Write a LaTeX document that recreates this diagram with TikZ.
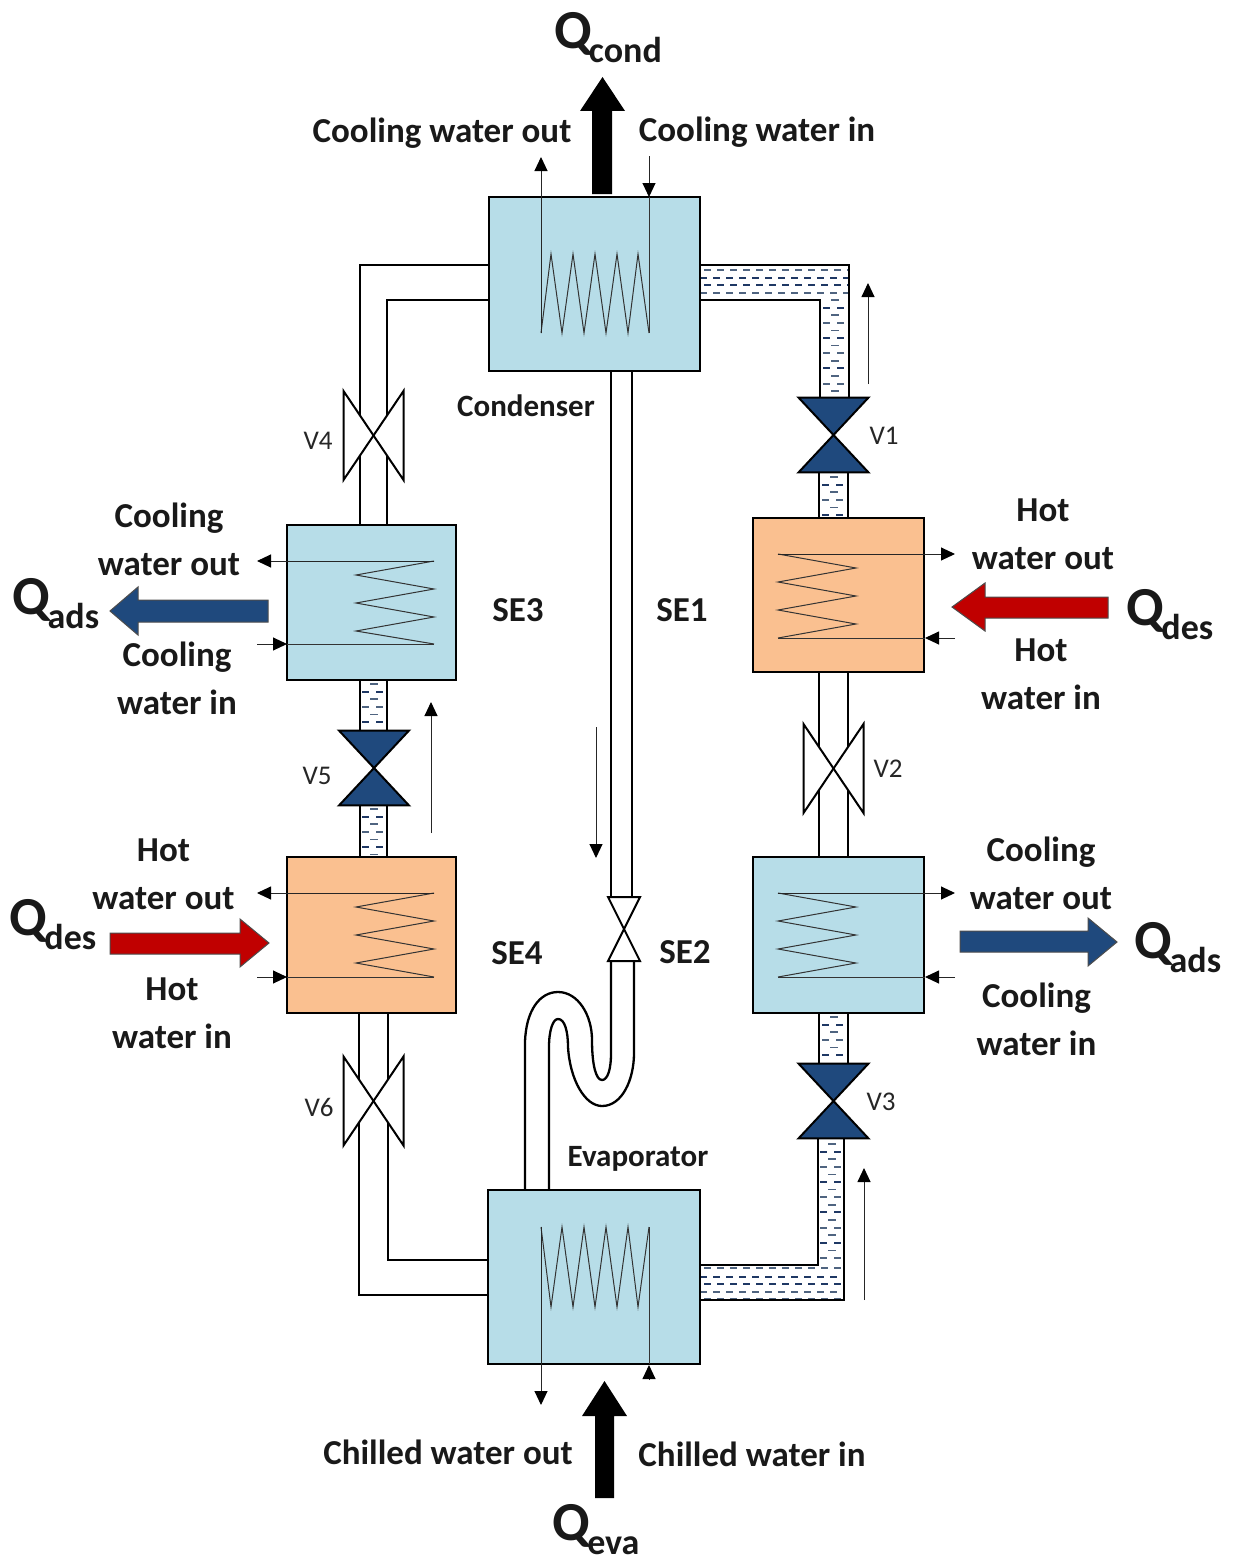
\documentclass[tikz,border=0pt]{standalone}
\usepackage{fontspec}
\setmainfont{Carlito}
\usetikzlibrary{arrows.meta}
\definecolor{boxblue}{HTML}{B7DDE8}
\definecolor{boxorange}{HTML}{FAC090}
\definecolor{navy}{HTML}{1F497D}
\definecolor{dred}{HTML}{C00000}
\definecolor{dashdark}{HTML}{1F3864}
\definecolor{dashgrey}{HTML}{4F6480}
\newcommand{\hdashes}[4]{% x0, x1, y, colour
  \draw[#4,line width=1.9pt,dash pattern=on 7pt off 6pt] (#1,#3) -- (#2,#3);}
\newcommand{\rowdash}[3]{% xcentre, y, colour
  \draw[#3,line width=1.9pt] (#1-11,#2) -- (#1-4,#2) (#1+3,#2) -- (#1+10,#2);}
\newcommand{\vdashes}[3]{% xcentre, y0, y1
  \pgfmathsetmacro{\yb}{#2+7.6}
  \foreach \y [count=\i] in {#2,\yb,...,#3} {
    \pgfmathtruncatemacro{\m}{mod(\i,4)}
    \ifnum\m=2 \rowdash{#1}{\y}{dashdark}\else\ifnum\m=0 \rowdash{#1}{\y}{dashgrey}\else
      \draw[dashgrey,line width=1.5pt] (#1-3,\y) -- (#1+5,\y);\fi\fi
  }}
\tikzset{
  x=1pt,y=-1pt,
  vessel/.style={draw=black,line width=2.5pt,inner sep=0pt,outer sep=0pt},
  pipe/.style={draw=black,line width=2.3pt},
  thin line/.style={draw=black!80,line width=1pt},
  flow/.style={draw=black!85,line width=1pt,-{Triangle[length=14pt,width=13pt,color=black]}},
  valveopen/.style={draw=black,line width=2pt,fill=white,line join=miter},
  valveshut/.style={draw=black,line width=2pt,fill=navy,line join=miter},
  lab/.style={font=\fontsize{35}{42}\selectfont\bfseries,align=center,inner sep=0pt,text=black!90},
  vlab/.style={font=\fontsize{27}{32}\selectfont,inner sep=0pt,text=black!85},
  hvlab/.style={font=\fontsize{31}{40}\selectfont\bfseries,inner sep=0pt,text=black!90},
  qlab/.style={inner sep=0pt,text=black!90},
}
\newcommand{\QQ}[1]{{\fontsize{55}{56}\selectfont\bfseries Q}\kern-3pt\raisebox{-14pt}{\fontsize{36}{36}\selectfont\bfseries #1}}
\begin{document}
\begin{tikzpicture}
\useasboundingbox (0,0) rectangle (1239,1560);
% liquid
\hdashes{704}{848}{270}{dashgrey}
\hdashes{700}{848}{277.7}{dashdark}
\hdashes{704}{848}{285}{dashdark}
\hdashes{700}{848}{292.7}{dashgrey}
\hdashes{704}{842}{1268}{dashgrey}
\hdashes{700}{842}{1277}{dashdark}
\hdashes{704}{842}{1284}{dashdark}
\hdashes{700}{842}{1292}{dashgrey}
\hdashes{704}{842}{1298.5}{dashgrey}
\vdashes{834}{300}{392}
\vdashes{833}{477}{516}
\vdashes{833}{1017}{1060}
\vdashes{831}{1144}{1262}
\vdashes{373}{684}{728}
\vdashes{373}{809}{855}
% pipes (drawn before the vessels that they enter)
\draw[pipe] (489,265) -| (360,524);
\draw[pipe] (489,300) -| (387,524);
\draw[pipe] (700,265) -| (849,397);
\draw[pipe] (700,300) -| (820,397);
\draw[pipe] (819,473) -- (819,518) (848,473) -- (848,518);
\draw[pipe] (819,672) -- (819,857) (848,672) -- (848,857);
\draw[pipe] (819,1013) -- (819,1063) (848,1013) -- (848,1063);
\draw[pipe] (818,1139) |- (700,1265);
\draw[pipe] (844,1139) |- (700,1300);
\draw[pipe] (360,680) -- (360,731) (387,680) -- (387,731);
\draw[pipe] (360,805) -- (360,857) (387,805) -- (387,857);
\draw[pipe] (359,1013) |- (488,1295);
\draw[pipe] (388,1013) |- (488,1260);
\draw[pipe] (611,371) -- (611,897) (632,371) -- (632,897);
% S-bend
\draw[pipe] (525,1190) -- (525,1042) .. controls (526,1010) and (540,992) .. (558,992)
  .. controls (578,992) and (592,1015) .. (592,1040)
  .. controls (592,1065) and (596,1080) .. (602,1080)
  .. controls (608,1080) and (611,1068) .. (611,1054) -- (611,961);
\draw[pipe] (549,1190) -- (549,1047) .. controls (549,1030) and (553,1019) .. (558,1019)
  .. controls (565,1019) and (568,1032) .. (568,1047)
  .. controls (570,1080) and (585,1106) .. (602,1106)
  .. controls (622,1106) and (634,1080) .. (634,1053) -- (634,961);
% vessels
\newcommand{\vessel}[6]{\node[vessel,fill=#6,minimum width=#4-#2,minimum height=#5-#3] (#1) at ({(#2+#4)/2},{(#3+#5)/2}) {};}
\vessel{cond}{489}{197}{700}{371}{boxblue}
\vessel{evap}{488}{1190}{700}{1364}{boxblue}
\vessel{seone}{753}{518}{924}{672}{boxorange}
\vessel{setwo}{753}{857}{924}{1013}{boxblue}
\vessel{sethree}{287}{525}{456}{680}{boxblue}
\vessel{sefour}{287}{857}{456}{1013}{boxorange}
% valves
\newcommand{\vertvalve}[4]{%
  \draw[#4] (#1-#2,#3-#2*1.07) -- (#1+#2,#3-#2*1.07) -- (#1,#3) -- cycle;
  \draw[#4] (#1-#2,#3+#2*1.07) -- (#1+#2,#3+#2*1.07) -- (#1,#3) -- cycle;}
\vertvalve{833.5}{35}{435}{valveshut}
\vertvalve{833.5}{35}{1101}{valveshut}
\vertvalve{374}{35}{768}{valveshut}
\draw[valveopen] (608,897) -- (640,897) -- (608,961) -- (640,961) -- cycle;
\newcommand{\sidevalve}[2]{%
  \draw[valveopen] (#1,#2) -- (#1-30,#2-44.5) -- (#1-30,#2+44.5) -- cycle;
  \draw[valveopen] (#1,#2) -- (#1+30,#2-44.5) -- (#1+30,#2+44.5) -- cycle;}
\sidevalve{373.5}{435.5}
\sidevalve{833.5}{768.5}
\sidevalve{373.5}{1101}
% coils
\draw[thin line,line join=miter] (541,333) -- (551,254) -- (562,333) -- (573,254) -- (584,333) -- (595,254) -- (606,333) -- (617,254) -- (628,333) -- (638,254) -- (649,333);
\draw[thin line,line join=miter] (541,1227) -- (551,1307) -- (562,1227) -- (573,1307) -- (584,1227) -- (595,1307) -- (606,1227) -- (617,1307) -- (628,1227) -- (638,1307) -- (649,1227);
\draw[thin line] (434,561) -- (356,575) -- (434,589) -- (356,603) -- (434,617) -- (356,631) -- (434,644);
\draw[thin line] (434,893) -- (356,907) -- (434,921) -- (356,935) -- (434,949) -- (356,963) -- (434,977);
\draw[thin line] (778,554) -- (856,568) -- (778,582) -- (856,596) -- (778,610) -- (856,624) -- (778,638);
\draw[thin line] (778,893) -- (856,907) -- (778,921) -- (856,935) -- (778,949) -- (856,963) -- (778,977);
% coil leads with arrows
\draw[flow] (541,333) -- (541,157);
\draw[flow] (649,156) -- (649,197);
\draw[thin line] (649,197) -- (649,333);
\draw[flow] (541,1227) -- (541,1405);
\draw[flow] (649,1380) -- (649,1365);
\draw[thin line] (649,1364) -- (649,1227);
\draw[flow] (434,561) -- (257,561);
\draw[flow] (257,644) -- (287,644);
\draw[thin line] (287,644) -- (434,644);
\draw[flow] (434,893) -- (257,893);
\draw[flow] (257,977) -- (287,977);
\draw[thin line] (287,977) -- (434,977);
\draw[flow] (778,554) -- (955,554);
\draw[flow] (955,638) -- (925,638);
\draw[thin line] (925,638) -- (778,638);
\draw[flow] (778,893) -- (955,893);
\draw[flow] (955,977) -- (925,977);
\draw[thin line] (925,977) -- (778,977);
% flow direction arrows
\draw[flow] (868,384) -- (868,283);
\draw[flow] (431,833) -- (431,702);
\draw[flow] (596,727) -- (596,858);
\draw[flow] (864,1300) -- (864,1168);
% big arrows
\fill[black] (592,194) -- (592,111) -- (580,111) -- (602.5,77) -- (625,111) -- (612,111) -- (612,194) -- cycle;
\fill[black] (595,1498) -- (595,1416) -- (582,1416) -- (604.5,1381) -- (627,1416) -- (614,1416) -- (614,1498) -- cycle;
\draw[draw=black!70,line width=1pt,fill=navy] (268,600) -- (138,600) -- (138,587) -- (110,611) -- (138,635) -- (138,622) -- (268,622) -- cycle;
\draw[draw=black!70,line width=1pt,fill=dred] (1108,597) -- (985,597) -- (985,583) -- (952,607) -- (985,631) -- (985,618) -- (1108,618) -- cycle;
\draw[draw=black!70,line width=1pt,fill=dred] (110,933) -- (240,933) -- (240,919) -- (269,943) -- (240,967) -- (240,954) -- (110,954) -- cycle;
\draw[draw=black!70,line width=1pt,fill=navy] (960,931) -- (1088,931) -- (1088,918) -- (1117,942) -- (1088,966) -- (1088,952) -- (960,952) -- cycle;
% labels
\node[qlab] (qc) at (608,38) {\QQ{cond}};
\node[qlab] (qe) at (596,1529.5) {\QQ{eva}};
\node[qlab] (qa1) at (56,604) {\QQ{ads}};
\node[qlab] (qd1) at (1170,615) {\QQ{des}};
\node[qlab] (qd2) at (53,925) {\QQ{des}};
\node[qlab] (qa2) at (1178,948) {\QQ{ads}};
\node[lab] (t1) at (442,133) {Cooling water out};
\node[lab] (t2) at (757,132) {Cooling water in};
\node[lab] (t3) at (448,1452.5) {Chilled water out};
\node[lab] (t4) at (752,1454.5) {Chilled water in};
\node[lab] (t5) at (169,539) {Cooling\\[6pt]water out};
\node[lab] (t6) at (177,678) {Cooling\\[6pt]water in};
\node[lab] (t7) at (163.5,874) {Hot\\[6pt]water out};
\node[lab] (t8) at (172,1013.5) {Hot\\[6pt]water in};
\node[lab] (t9) at (1043,534) {Hot\\[6pt]water out};
\node[lab] (t10) at (1041,674.5) {Hot\\[6pt]water in};
\node[lab] (t11) at (1041,873) {Cooling\\[6pt]water out};
\node[lab] (t12) at (1036.5,1019.5) {Cooling\\[6pt]water in};
\node[hvlab] (t13) at (526,406) {Condenser};
\node[hvlab] (t14) at (638,1159) {Evaporator};
\node[lab] (s3) at (518,610) {SE3};
\node[lab] (s1) at (682,610) {SE1};
\node[lab] (s4) at (517,953) {SE4};
\node[lab] (s2) at (685,952) {SE2};
\node[vlab] (v1) at (884,436) {V1};
\node[vlab] (v2) at (888,769) {V2};
\node[vlab] (v3) at (881,1102) {V3};
\node[vlab] (v4) at (318,441) {V4};
\node[vlab] (v5) at (317,776) {V5};
\node[vlab] (v6) at (319,1107) {V6};
\end{tikzpicture}
\end{document}
